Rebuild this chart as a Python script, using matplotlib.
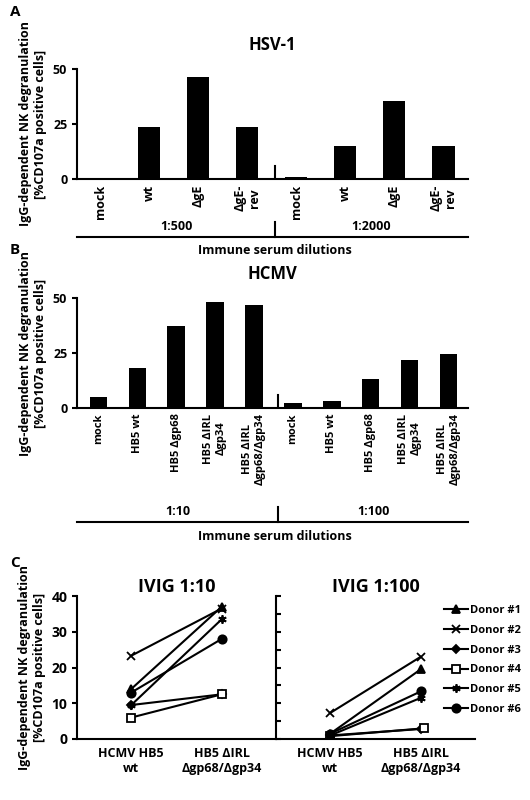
import matplotlib
matplotlib.use("Agg")
import matplotlib.pyplot as plt
from matplotlib.lines import Line2D

plt.rcParams['font.family'] = ['Open Sans', 'DejaVu Sans']
plt.rcParams['font.weight'] = 'bold'

a_labels = ["mock", "wt", "ΔgE", "ΔgE-\nrev", "mock", "wt", "ΔgE", "ΔgE-\nrev"]
a_values = [0.3, 23.5, 46.5, 23.5, 1.0, 15.0, 35.5, 14.8]
b_labels = ["mock", "HB5 wt", "HB5 Δgp68", "HB5 ΔIRL\nΔgp34", "HB5 ΔIRL\nΔgp68/Δgp34",
            "mock", "HB5 wt", "HB5 Δgp68", "HB5 ΔIRL\nΔgp34", "HB5 ΔIRL\nΔgp68/Δgp34"]
b_values = [5, 18, 37.5, 48, 47, 2.5, 3, 13, 22, 24.5]
c_groups = ["HCMV HB5\nwt", "HB5 ΔIRL\nΔgp68/Δgp34"]
donors = ["Donor #1", "Donor #2", "Donor #3", "Donor #4", "Donor #5", "Donor #6"]
ivig10 = {"Donor #1": [14, 37], "Donor #2": [23.3, 36.5], "Donor #3": [9.5, 12.5],
          "Donor #4": [6, 12.5], "Donor #5": [9.5, 33.5], "Donor #6": [13, 28]}
ivig100 = {"Donor #1": [1.5, 19.5], "Donor #2": [7.3, 23], "Donor #3": [1, 2.8],
           "Donor #4": [0.8, 3], "Donor #5": [1, 11.5], "Donor #6": [1.5, 13.3]}
markers = {"Donor #1": ("^", "k", 6), "Donor #2": ("x", "k", 6), "Donor #3": ("D", "k", 4.5),
           "Donor #4": ("s", "white", 6), "Donor #5": ((6, 2, 0), "k", 6), "Donor #6": ("o", "k", 6)}

W, H = 530, 800
fig = plt.figure(figsize=(W/100, H/100), dpi=100)
def ax_px(x0, y0, x1, y1):
    return fig.add_axes([x0/W, 1-y1/H, (x1-x0)/W, (y1-y0)/H])
def ftext(x, y, s, **kw):
    fig.text(x/W, 1-y/H, s, **kw)
def fline(x0, y0, x1, y1, lw=1.5):
    fig.add_artist(Line2D([x0/W, x1/W], [1-y0/H, 1-y1/H], color='k', lw=lw))

ylab = "IgG-dependent NK degranulation\n[%CD107a positive cells]"

def bar_panel(top, bottom, labels, values, xlim, div, title, ly, seg_labels, fs_lab):
    ax = ax_px(77, top, 468, bottom)
    ax.bar(range(len(values)), values, width=0.45, color='k')
    ax.set_xlim(*xlim); ax.set_ylim(0, 50)
    ax.set_yticks([0, 25, 50])
    ax.set_xticks(range(len(values)))
    ax.set_xticklabels(labels, rotation=90, fontsize=fs_lab, fontweight='bold')
    ax.tick_params(axis='x', length=0, pad=4)
    ax.tick_params(axis='y', labelsize=9, width=1.5)
    for s in ['top', 'right']: ax.spines[s].set_visible(False)
    ax.spines['left'].set_linewidth(1.5); ax.spines['bottom'].set_linewidth(1.5)
    ax.axvline(div, ymin=0, ymax=0.12, color='k', lw=1.5)
    ax.set_ylabel(ylab, fontsize=9, fontweight='bold')
    ax.set_title(title, fontsize=12, fontweight='bold', pad=14)
    divx = 77 + (div - xlim[0]) / (xlim[1] - xlim[0]) * 391
    fline(77, ly, 468, ly)
    fline(divx, ly - 15, divx, ly)
    ftext((77+divx)/2, ly-4, seg_labels[0], ha='center', va='bottom', fontsize=9, fontweight='bold')
    ftext((divx+468)/2, ly-4, seg_labels[1], ha='center', va='bottom', fontsize=9, fontweight='bold')
    ftext(275, ly+14, "Immune serum dilutions", ha='center', va='center', fontsize=9, fontweight='bold')

bar_panel(69, 179, a_labels, a_values, (-0.47, 7.5), 3.57, "HSV-1", 237, ["1:500", "1:2000"], 9)
bar_panel(298, 408, b_labels, b_values, (-0.55, 9.5), 4.62, "HCMV", 522, ["1:10", "1:100"], 8)
ftext(10, 12, "A", fontsize=11, fontweight='bold', va='center')
ftext(10, 250, "B", fontsize=11, fontweight='bold', va='center')
ftext(10, 563, "C", fontsize=11, fontweight='bold', va='center')

ax1 = ax_px(77, 596, 276, 739)
ax2 = ax_px(276, 596, 475, 739)
for ax, data, title in [(ax1, ivig10, "IVIG 1:10"), (ax2, ivig100, "IVIG 1:100")]:
    for d in donors:
        m, fc, ms = markers[d]
        xs = [0, 1.04] if (d == "Donor #4" and ax is ax2) else [0, 1]
        ax.plot(xs, data[d], color='k', lw=1.5, marker=m, markerfacecolor=fc,
                markeredgecolor='k', markersize=ms, markeredgewidth=1.3, label=d)
    ax.set_xlim(-0.6, 1.6); ax.set_ylim(0, 40)
    ax.set_xticks([0, 1]); ax.set_xticklabels(c_groups, fontsize=9, fontweight='bold')
    ax.tick_params(axis='x', length=0, pad=6)
    ax.set_yticks(range(0, 41, 5))
    for s in ['top', 'right']: ax.spines[s].set_visible(False)
    ax.spines['left'].set_linewidth(1.5); ax.spines['bottom'].set_linewidth(1.5)
    ax.set_title(title, fontsize=13, fontweight='bold', pad=-2)
ax1.set_yticks([0, 10, 20, 30, 40]); ax1.tick_params(axis='y', labelsize=10, width=1.5)
ax1.set_ylabel(ylab, fontsize=9, fontweight='bold')
ax2.tick_params(axis='y', labelleft=False, direction='in', width=1.5)
ax2.legend(loc='upper left', bbox_to_anchor=(0.82, 0.97), frameon=False, fontsize=8,
           handlelength=2.2, labelspacing=0.8, handletextpad=0.2, borderaxespad=0)

fig.savefig("out.png", dpi=100)
